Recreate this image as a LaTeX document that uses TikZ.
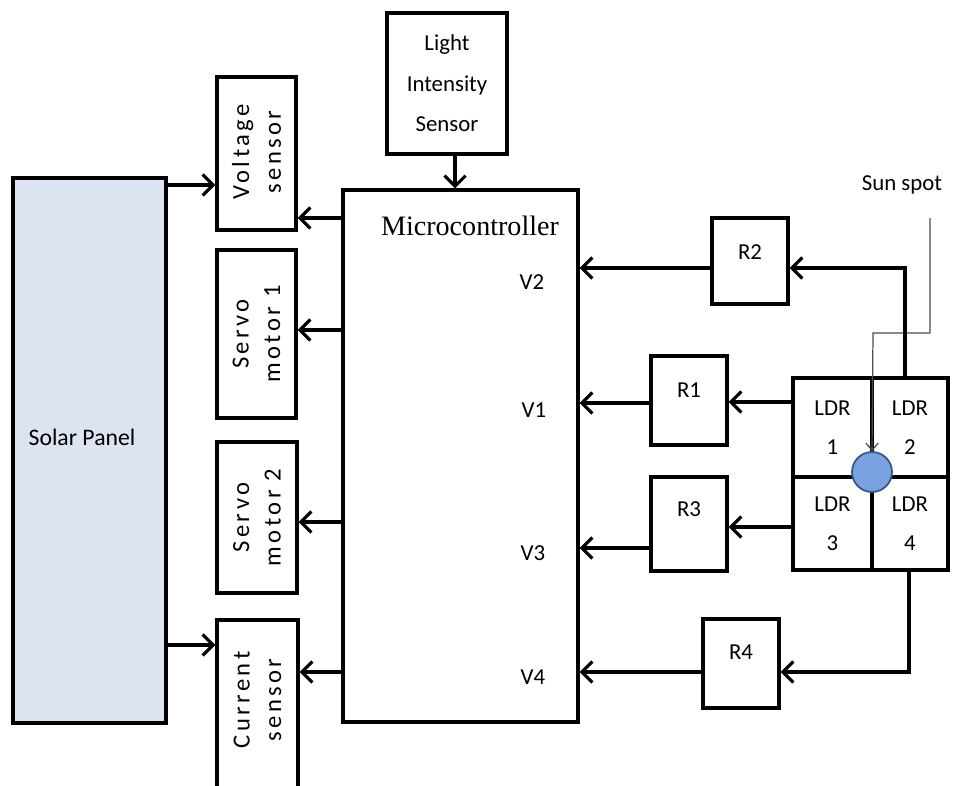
\documentclass[tikz,border=0pt]{standalone}
\usepackage{fontspec}
\setmainfont{Carlito}
\newfontfamily\mcfont{Liberation Serif}
\newfontfamily\spacedfont[LetterSpace=14]{Carlito}
\usetikzlibrary{arrows.meta}

\definecolor{panelblue}{RGB}{220,228,241}
\definecolor{spotblue}{RGB}{122,162,222}
\definecolor{spotedge}{RGB}{52,86,140}

\tikzset{
  block/.style={draw, line width=1.8pt, inner sep=0pt, align=center,
    font=\fontsize{13}{22}\selectfont},
  wire/.style={line width=1.8pt, ->},
  vtext/.style={rotate=90, align=center, font=\spacedfont\fontsize{14}{18}\selectfont},
  pin/.style={font=\fontsize{13}{16}\selectfont},
}

\begin{document}
\begin{tikzpicture}[x=0.02cm, y=-0.02cm, >={Straight Barb[length=6pt,width=12pt]}]
        \useasboundingbox (0,0) rectangle (957,785);

        % Solar panel and sensors
        \node[block, fill=panelblue, minimum width=3.06cm, minimum height=10.9cm,
          label={[xshift=-0.15cm, yshift=0.27cm, font=\fontsize{13.5}{16}\selectfont]center:Solar Panel}]
          (solar) at (89.5,450.5) {};
        \node[block, minimum width=1.58cm, minimum height=3.06cm,
          label={[vtext, xshift=0.03cm]center:{Voltage\\sensor}}] (volt) at (256.5,153.5) {};
        \node[block, minimum width=1.58cm, minimum height=3.36cm,
          label={[vtext]center:{Servo\\motor 1}}] (servoA) at (256.5,334) {};
        \node[block, minimum width=1.60cm, minimum height=3.02cm,
          label={[vtext]center:{Servo\\motor 2}}] (servoB) at (257,517.5) {};
        \node[block, minimum width=1.62cm, minimum height=3.80cm,
          label={[vtext, xshift=0.3cm]center:{Current\\sensor}}] (curr) at (257.5,715) {};

        % Microcontroller
        \node[block, minimum width=2.4cm, minimum height=2.82cm,
          font=\fontsize{13}{23}\selectfont] (light) at (447,83.5) {Light\\Intensity\\Sensor};
        \node[block, minimum width=4.7cm, minimum height=10.64cm] (micro) at (460.5,456) {};
        \node[font=\mcfont\fontsize{16}{18}\selectfont] (mctitle) at (470,226) {Microcontroller};
        \node[pin] (v2) at (532,282) {V2};
        \node[pin] (v1) at (534,410) {V1};
        \node[pin] (v3) at (533,553) {V3};
        \node[pin] (v4) at (533,677) {V4};

        % Resistors
        \node[block, minimum width=1.52cm, minimum height=1.72cm,
          label={[yshift=0.18cm, font=\fontsize{13}{16}\selectfont]center:R2}] (R2) at (750,261) {};
        \node[block, minimum width=1.52cm, minimum height=1.78cm,
          label={[yshift=0.21cm, font=\fontsize{13}{16}\selectfont]center:R1}] (R1) at (689,400.5) {};
        \node[block, minimum width=1.52cm, minimum height=1.88cm,
          label={[yshift=0.3cm, font=\fontsize{13}{16}\selectfont]center:R3}] (R3) at (689,524) {};
        \node[block, minimum width=1.52cm, minimum height=1.78cm,
          label={[yshift=0.23cm, font=\fontsize{13}{16}\selectfont]center:R4}] (R4) at (741,663.5) {};

        % LDR array
        \node[block, minimum width=1.58cm, minimum height=1.98cm] (ldrA) at (832.5,427.5) {LDR\\1};
        \node[block, minimum width=1.52cm, minimum height=1.98cm] (ldrB) at (910,427.5) {LDR\\2};
        \node[block, minimum width=1.58cm, minimum height=1.86cm] (ldrC) at (832.5,523.5) {LDR\\3};
        \node[block, minimum width=1.52cm, minimum height=1.86cm] (ldrD) at (910,523.5) {LDR\\4};
        \node[circle, draw=spotedge, fill=spotblue, line width=1pt, minimum size=0.8cm] (spot) at (872,472) {};

        % Sun spot
        \node[font=\fontsize{13}{16}\selectfont] (sun) at (902,185) {Sun spot};
        \coordinate (sunline) at (930,218);
        \draw[gray!60!black, line width=0.7pt, -{Straight Barb[length=4pt,width=7pt]}]
          (sunline) |- (873,333) -- (spot.north);

        % Connections
        \draw[wire] (solar.east |- 0,185) -- (volt.west |- 0,185);
        \draw[wire] (solar.east |- 0,645) -- (curr.west |- 0,645);
        \draw[wire] (light.south -| 455,0) -- (micro.north -| 455,0);
        \draw[wire] (micro.west |- 0,218) -- (volt.east |- 0,218);
        \draw[wire] (micro.west |- 0,330) -- (servoA.east |- 0,330);
        \draw[wire] (micro.west |- 0,522) -- (servoB.east |- 0,522);
        \draw[wire] (micro.west |- 0,672) -- (curr.east |- 0,672);

        \draw[wire] (ldrB.north -| 905,0) |- (R2.east |- 0,268);
        \draw[wire] (R2.west |- 0,268) -- (micro.east |- 0,268);
        \draw[wire] (ldrA.west |- 0,402) -- (R1.east |- 0,402);
        \draw[wire] (R1.west |- 0,403) -- (micro.east |- 0,403);
        \draw[wire] (ldrC.west |- 0,527) -- (R3.east |- 0,527);
        \draw[wire] (R3.west |- 0,548) -- (micro.east |- 0,548);
        \draw[wire] (ldrD.south -| 909,0) |- (R4.east |- 0,672);
        \draw[wire] (R4.west |- 0,672) -- (micro.east |- 0,672);
    \end{tikzpicture}
\end{document}
